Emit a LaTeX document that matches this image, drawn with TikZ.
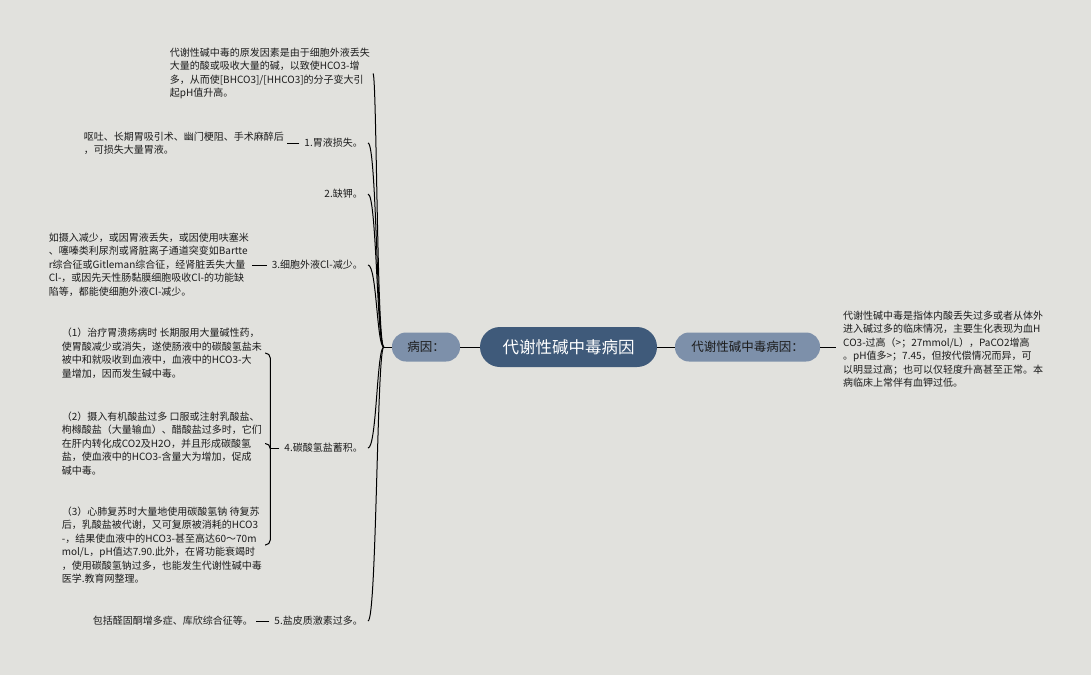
\documentclass[tikz,border=0pt]{standalone}
\usepackage{fontspec}
\setmainfont{Noto Sans CJK SC}
\usetikzlibrary{calc}

\definecolor{bgcol}{HTML}{E1E1DD}
\definecolor{rootcol}{HTML}{3F5A7A}
\definecolor{subcol}{HTML}{7D90AA}
\definecolor{inkcol}{HTML}{1C1C1C}

\tikzset{
  root/.style={rectangle, rounded corners=20pt, fill=rootcol, text=white,
    font=\fontsize{16.5}{20}\selectfont, minimum width=177pt, minimum height=40pt, inner sep=0pt},
  branch/.style={rectangle, rounded corners=14pt, fill=subcol, text=inkcol,
    font=\fontsize{12.5}{15}\selectfont, minimum height=29pt, inner sep=0pt},
  leaf/.style={align=left, inner xsep=3pt, inner ysep=0pt, text=inkcol,
    font=\fontsize{10}{13.5}\selectfont},
  cause/.style={leaf, anchor=east, inner xsep=5pt},
  link/.style={draw=black, line width=1pt},
}

\begin{document}
\begin{tikzpicture}[x=1pt,y=-1pt]

\fill[bgcol] (0,0) rectangle (1091,675);  % page background
\useasboundingbox (0,0) rectangle (1091,675);

% main topics
\node[root] (root) at (568.5,347) {代谢性碱中毒病因};
\node[branch, minimum width=68pt] (why) at (426,347) {病因：};
\node[branch, minimum width=145pt] (def) at (747.5,347) {代谢性碱中毒病因：};

\node[leaf, anchor=west, inner xsep=7pt] (deftext) at (836,349) {代谢性碱中毒是指体内酸丢失过多或者从体外\\
进入碱过多的临床情况，主要生化表现为血H\\
CO3-过高（>；27mmol/L），PaCO2增高\\
。pH值多>；7.45，但按代偿情况而异，可\\
以明显过高；也可以仅轻度升高甚至正常。本\\
病临床上常伴有血钾过低。};

\draw[link] (root) -- (why);
\draw[link] (root) -- (def);
\draw[link] (def.east) -- (def.east -| deftext.west);

% causes
\node[leaf, anchor=east] (ca) at (373,73.5) {代谢性碱中毒的原发因素是由于细胞外液丢失\\
大量的酸或吸收大量的碱，以致使HCO3-增\\
多，从而使[BHCO3]/[HHCO3]的分子变大引\\
起pH值升高。};
\node[cause] (c1) at (368,143) {1.胃液损失。};
\node[cause] (c2) at (368,194) {2.缺钾。};
\node[cause] (c3) at (368,265) {3.细胞外液Cl-减少。};
\node[cause] (c4) at (368,448) {4.碳酸氢盐蓄积。};
\node[cause] (c5) at (368,621) {5.盐皮质激素过多。};

\coordinate (hub) at ($(why.west)+(-8,0)$);
\draw[link] (why.west) -- (hub);
\foreach \c in {ca,c1,c2,c3,c4,c5}
  \draw[link] (hub) .. controls ($(hub)+(-7,0)$) and ($(\c.east -| hub)+(-7,0)$) .. (\c.east);

% details
\node[leaf, anchor=east] (t1) at (287,143.5) {呕吐、长期胃吸引术、幽门梗阻、手术麻醉后\\
，可损失大量胃液。};
\node[leaf, anchor=east] (t3) at (252,264.5) {如摄入减少，或因胃液丢失，或因使用呋塞米\\
、噻嗪类利尿剂或肾脏离子通道突变如Bartte\\
r综合征或Gitleman综合征，经肾脏丢失大量\\
Cl-，或因先天性肠黏膜细胞吸收Cl-的功能缺\\
陷等，都能使细胞外液Cl-减少。};
\node[leaf, anchor=east] (t5) at (256,621) {包括醛固酮增多症、库欣综合征等。};

\draw[link] (c1.west) -- (c1.west -| t1.east);
\draw[link] (c3.west) -- (c3.west -| t3.east);
\draw[link] (c5.west) -- (c5.west -| t5.east);

% bicarbonate cases
\node[leaf, anchor=east] (k1) at (265,353) {（1）治疗胃溃疡病时 长期服用大量碱性药，\\
使胃酸减少或消失，遂使肠液中的碳酸氢盐未\\
被中和就吸收到血液中，血液中的HCO3-大\\
量增加，因而发生碱中毒。};
\node[leaf, anchor=east] (k2) at (265,443.5) {（2）摄入有机酸盐过多 口服或注射乳酸盐、\\
枸橼酸盐（大量输血）、醋酸盐过多时，它们\\
在肝内转化成CO2及H2O，并且形成碳酸氢\\
盐，使血液中的HCO3-含量大为增加，促成\\
碱中毒。};
\node[leaf, anchor=east] (k3) at (265,545) {（3）心肺复苏时大量地使用碳酸氢钠 待复苏\\
后，乳酸盐被代谢，又可复原被消耗的HCO3\\
-，结果使血液中的HCO3-甚至高达60～70m\\
mol/L，pH值达7.90.此外，在肾功能衰竭时\\
，使用碳酸氢钠过多，也能发生代谢性碱中毒\\
医学.教育网整理。};

\coordinate (brace) at ($(c4.west)+(-9,0)$);
\draw[link] (c4.west) -- (brace);
\foreach \k in {k1,k2,k3}
  \draw[link, rounded corners=5pt] (brace) |- (\k.east);

\end{tikzpicture}
\end{document}
